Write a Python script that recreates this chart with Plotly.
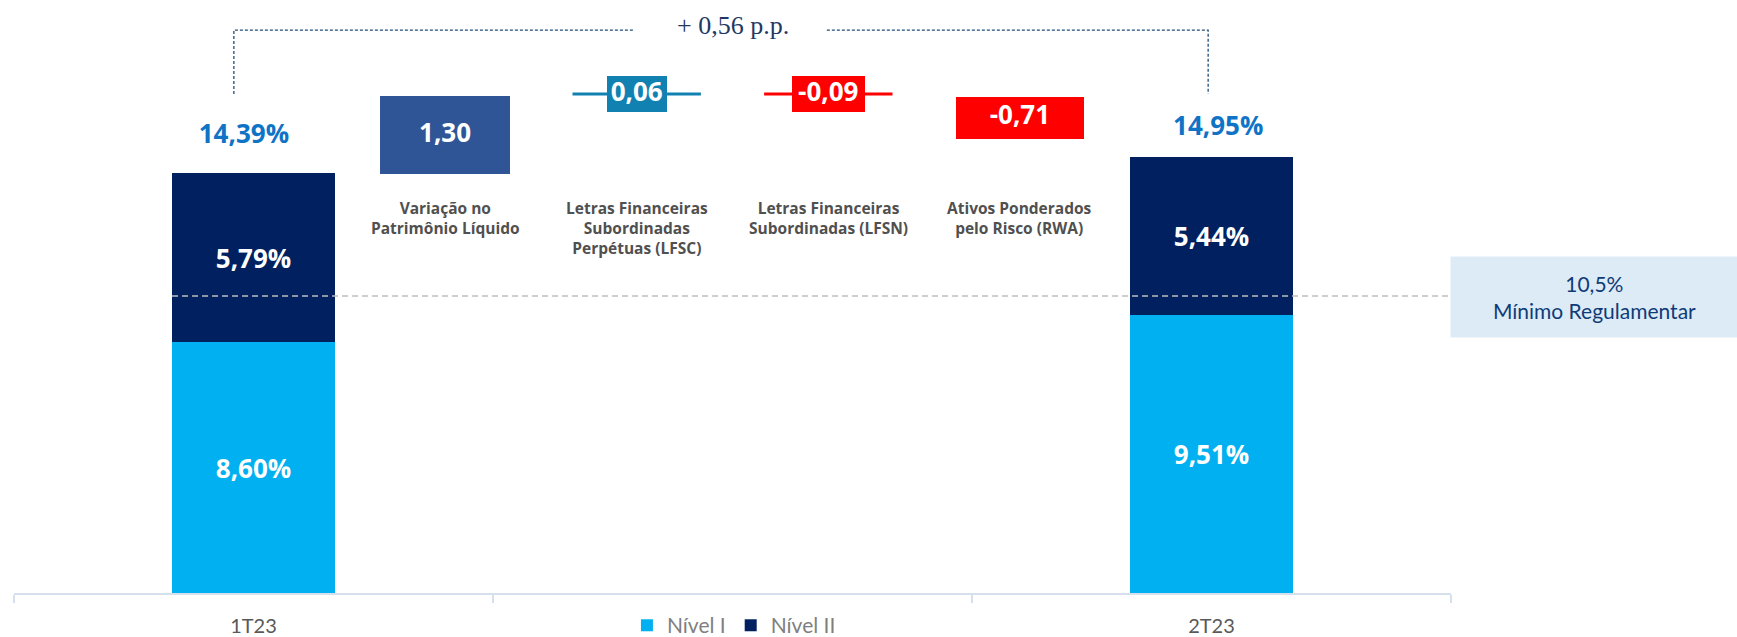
import plotly.graph_objects as go

# ---- data ----
periods = ["1T23", "2T23"]
period_x = [0, 2]
nivel1 = [8.60, 9.51]
nivel2 = [5.79, 5.44]
totals = [14.39, 14.95]
total_label_x = [-0.02, 2.014]
total_label_y = [15.65, 15.92]

step_labels = ["Variação no<br>Patrimônio Líquido",
               "Letras Financeiras<br>Subordinadas<br>Perpétuas (LFSC)",
               "Letras Financeiras<br>Subordinadas (LFSN)",
               "Ativos Ponderados<br>pelo Risco (RWA)"]
step_values = ["1,30", "0,06", "-0,09", "-0,71"]
step_x = [0.4, 0.8, 1.2, 1.6]
step_base = [14.35, 16.47, 16.47, 15.55]
step_top = [17.02, 17.71, 17.71, 16.99]
step_width = [0.27, 0.125, 0.152, 0.267]
step_colors = ["#2F5597", "#1181B2", "#FF0000", "#FF0000"]
step_line_y = 17.09
step_line_half = 0.134

delta_text = "+ 0,56 p.p."
bracket_x = [-0.041, -0.041, 0.794, None, 1.197, 1.993, 1.993]
bracket_y = [17.09, 19.28, 19.28, None, 19.28, 19.28, 17.09]
delta_y = 19.45

min_level = 10.17
min_text = "10,5%<br>Mínimo Regulamentar"

C_N1 = "#00B0F0"
C_N2 = "#002060"
GREY = "#595959"
BOLD = "Open Sans"

fig = go.Figure()

fig.add_trace(go.Bar(
    x=period_x, y=nivel1, name="Nível I", width=0.34,
    marker=dict(color=C_N1, line=dict(width=0)),
    text=[f"{v:.2f}%".replace(".", ",") for v in nivel1],
    textposition="inside", insidetextanchor="middle",
    textfont=dict(family=BOLD, size=26, color="white", weight="bold"),
    hoverinfo="skip"))
fig.add_trace(go.Bar(
    x=period_x, y=nivel2, name="Nível II", width=0.34,
    marker=dict(color=C_N2, line=dict(width=0)),
    text=[f"{v:.2f}%".replace(".", ",") for v in nivel2],
    textposition="inside", insidetextanchor="middle",
    textfont=dict(family=BOLD, size=26, color="white", weight="bold"),
    hoverinfo="skip"))

# connector lines behind small boxes
for i in (1, 2):
    fig.add_trace(go.Scatter(
        x=[step_x[i] - step_line_half, step_x[i] + step_line_half],
        y=[step_line_y, step_line_y], mode="lines",
        line=dict(color=step_colors[i], width=3),
        showlegend=False, hoverinfo="skip"))

# floating step boxes
fig.add_trace(go.Bar(
    x=step_x, base=step_base,
    y=[t - b for t, b in zip(step_top, step_base)],
    width=step_width, marker=dict(color=step_colors, line=dict(width=0)),
    showlegend=False, hoverinfo="skip"))
fig.add_trace(go.Scatter(
    x=step_x, y=[(t + b) / 2 for t, b in zip(step_top, step_base)],
    mode="text", text=step_values,
    textfont=dict(family=BOLD, size=26, color="white", weight="bold"),
    showlegend=False, hoverinfo="skip"))

# totals
fig.add_trace(go.Scatter(
    x=total_label_x, y=total_label_y, mode="text",
    text=[f"{v:.2f}%".replace(".", ",") for v in totals],
    textfont=dict(family=BOLD, size=26, color="#0F73C6", weight="bold"),
    showlegend=False, hoverinfo="skip"))

# minimum line
fig.add_trace(go.Scatter(
    x=[-0.17, 2.5], y=[min_level, min_level], mode="lines",
    line=dict(color="#BFBFBF", width=1.5, dash="6px,4px"),
    showlegend=False, hoverinfo="skip"))

# bracket
fig.add_trace(go.Scatter(
    x=bracket_x, y=bracket_y, mode="lines",
    line=dict(color="#1F4E79", width=1.3, dash="3px,2px"),
    showlegend=False, hoverinfo="skip", connectgaps=False))

fig.add_annotation(x=1.0, y=delta_y, xref="x", yref="y", text=delta_text,
                   showarrow=False,
                   font=dict(family="Liberation Serif", size=26, color="#1F3864"))

for xv, lab in zip(step_x, step_labels):
    fig.add_annotation(x=xv, y=13.62, xref="x", yref="y", text=lab,
                       showarrow=False, yanchor="top", align="center",
                       font=dict(family=BOLD, size=15.5, color="#505050", weight="bold"))

fig.add_annotation(x=1.0996, y=(593 - 297) / 593, xref="paper", yref="paper",
                   text=min_text, showarrow=False, xanchor="center", yanchor="middle",
                   width=285, height=78, bgcolor="#DDEBF7", align="center",
                   font=dict(family="Lato", size=21, color="#0F3C78"))

fig.update_layout(
    width=1737, height=637,
    margin=dict(l=14, r=286, t=0, b=44, autoexpand=False),
    plot_bgcolor="white", paper_bgcolor="white",
    barmode="stack", bargap=0,
    showlegend=True,
    legend=dict(orientation="h", x=0.501, xanchor="center", y=-0.055, yanchor="middle",
                font=dict(family="Lato", size=21, color="#7F7F7F"),
                traceorder="normal", itemwidth=30, tracegroupgap=0),
    xaxis=dict(range=[-0.5, 2.5], tickvals=period_x, ticktext=periods,
               ticks="", showgrid=False, zeroline=False,
               showline=True, linecolor="#D6E0EC", linewidth=2,
               tickfont=dict(family="Lato", size=20, color=GREY),
               ticklabelstandoff=14, automargin=False,
               minor=dict(tickvals=[-0.5, 0.5, 1.5, 2.5], ticks="outside",
                          ticklen=8, tickcolor="#D6E0EC", tickwidth=1.5)),
    yaxis=dict(range=[0, 20.31], visible=False, fixedrange=True, automargin=False),
)

fig.write_html("out.html", config={"displayModeBar": False},
               post_script="document.body.style.margin='0';document.body.style.overflow='hidden';")
